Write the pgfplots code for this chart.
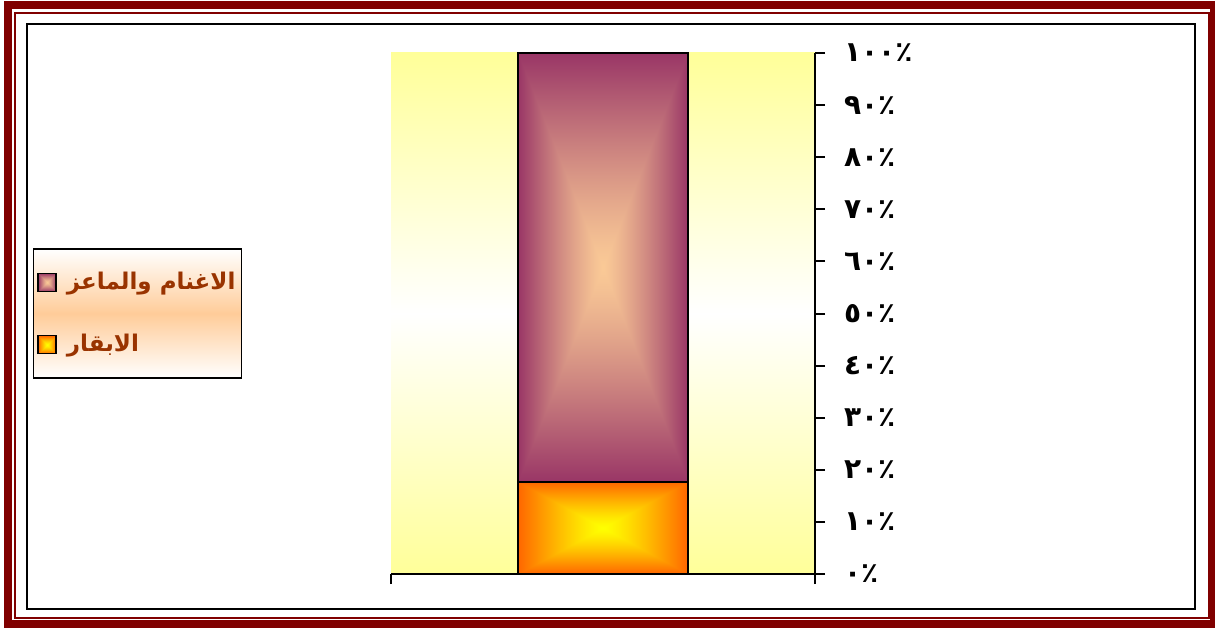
\documentclass[border=0pt]{standalone}
\usepackage{fontspec}
\usepackage{pgfplots}
\pgfplotsset{compat=1.18}
\setmainfont{Liberation Serif}
\newfontfamily\arabicfont[Script=Arabic]{DejaVu Sans}
\TeXXeTstate=1
\definecolor{framered}{RGB}{128,0,0}
\definecolor{legtext}{RGB}{153,51,0}
\definecolor{peach}{RGB}{255,204,153}
\definecolor{paleyellow}{RGB}{255,255,153}

% number then Arabic percent sign, kept in visual left-to-right order
\newcommand\arpct[1]{\hbox{#1}\hbox{٪}}

% rectangular "from centre" gradients, as Excel draws them
\pgfdeclarefunctionalshading{goatsfill}{\pgfpointorigin}{\pgfpoint{100bp}{100bp}}{}{
  50 sub abs exch 50 sub abs
  2 copy lt {exch} if pop
  25 div dup 1 gt {pop 1} if
  1.25 exp
  dup dup
  -0.38 mul 0.98 add 3 1 roll
  -0.58 mul 0.79 add exch
  -0.19 mul 0.59 add
}
\pgfdeclarefunctionalshading{cowsfill}{\pgfpointorigin}{\pgfpoint{100bp}{100bp}}{}{
  50 sub abs exch 50 sub abs
  2 copy lt {exch} if pop
  25 div dup 1 gt {pop 1} if
  1.25 exp
  -0.6 mul 1 add 1 exch 0
}

\begin{document}
\begin{tikzpicture}
\useasboundingbox (0,0) rectangle (607.5pt,314pt);
\begin{scope}[x=0.5pt,y=-0.5pt,shift={(0pt,314pt)}]
  \draw[framered, line width=4pt] (8,5.5) rectangle (1213.5,623.5);
  \draw[framered, line width=1pt] (15,13.5) rectangle (1209,617.5);
  \draw[black, line width=1.25pt] (27,24) rectangle (1195,609);
\end{scope}
\begin{axis}[
  at={(195.5pt,27pt)}, anchor=south west,
  scale only axis, width=212pt, height=260.5pt,
  ybar stacked, bar width=85pt,
  xmin=0, xmax=1, ymin=0, ymax=100,
  xtick={0,1}, xticklabels={},
  ytick={0,10,...,100},
  yticklabels={\arpct{٠},\arpct{١٠},\arpct{٢٠},\arpct{٣٠},\arpct{٤٠},\arpct{٥٠},
    \arpct{٦٠},\arpct{٧٠},\arpct{٨٠},\arpct{٩٠},\arpct{١٠٠}},
  axis x line*=bottom, axis y line*=right,
  tick align=outside, major tick length=5pt,
  axis line style={line width=1pt, -},
  tick style={line width=1pt, black},
  yticklabel style={font=\arabicfont\bfseries\fontsize{14}{16}\selectfont,
    anchor=west, xshift=6pt},
  axis background/.style={top color=paleyellow, bottom color=paleyellow, middle color=white},
  reverse legend,
  legend cell align=left,
  legend style={at={(-0.351,0.5)}, anchor=east, draw=black, line width=0.75pt,
    top color=white, bottom color=white, middle color=peach,
    font=\arabicfont\bfseries\fontsize{11.5}{14}\selectfont, text=legtext,
    inner xsep=2pt, inner ysep=9.5pt, row sep=17pt,
    nodes={inner xsep=1pt}},
  legend image code/.code={\draw[#1, line width=0.75pt] (0pt,-4.5pt) rectangle (9pt,4.5pt);},
]
\addplot[draw=black, line width=1pt, shading=cowsfill] coordinates {(0.5,17.7)};
\addlegendentry{\hspace{4pt}\beginR الابقار\endR}
\addplot[draw=black, line width=1pt, shading=goatsfill] coordinates {(0.5,82.3)};
\addlegendentry{\hspace{4pt}\beginR الاغنام والماعز\endR}
\end{axis}
\end{tikzpicture}
\end{document}
